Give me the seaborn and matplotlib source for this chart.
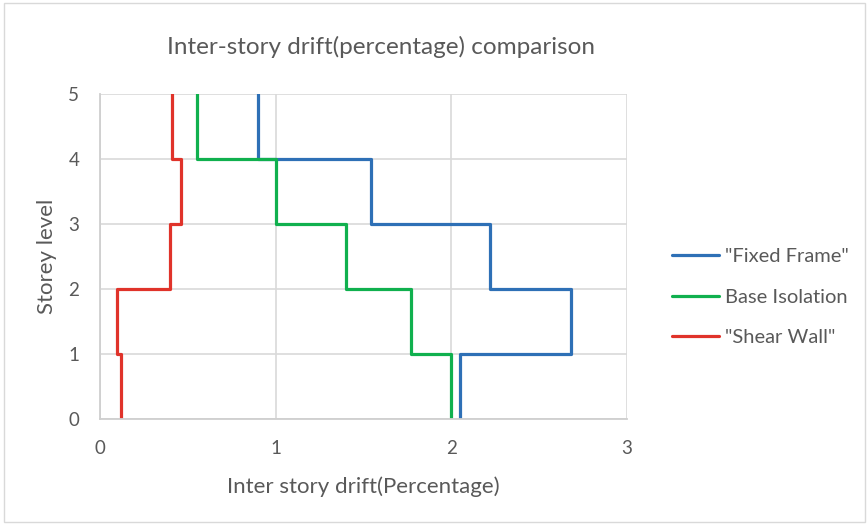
import numpy as np
import pandas as pd
import matplotlib
matplotlib.use("Agg")
import matplotlib.pyplot as plt
import seaborn as sns
from matplotlib.patches import Rectangle

# Data: drift (%) in each storey, storey i spans level i-1 .. i
storey_levels = [0, 1, 2, 3, 4, 5]
fixed_frame = [2.05, 2.68, 2.22, 1.54, 0.90]
base_isolation = [2.00, 1.77, 1.40, 1.00, 0.55]
shear_wall = [0.12, 0.095, 0.40, 0.46, 0.41]
series_names = ['"Fixed Frame"', 'Base Isolation', '"Shear Wall"']
series_values = [fixed_frame, base_isolation, shear_wall]
colors = ['#2e70b6', '#10b04e', '#e0332a']
x_ticks = [0, 1, 2, 3]
y_ticks = [0, 1, 2, 3, 4, 5]

rows = []
for name, vals in zip(series_names, series_values):
    order = 0
    for i, v in enumerate(vals):
        rows.append(dict(series=name, x=v, y=storey_levels[i], o=order)); order += 1
        rows.append(dict(series=name, x=v, y=storey_levels[i + 1], o=order)); order += 1
df = pd.DataFrame(rows)

sns.set_theme(style="white")
plt.rcParams['font.family'] = ['Lato', 'DejaVu Sans']
grey = '#595959'

fig = plt.figure(figsize=(8.68, 5.25), dpi=100)
ax = fig.add_axes([100 / 868, 1 - 419 / 525, 527 / 868, 325 / 525])

sns.lineplot(data=df, x='x', y='y', hue='series', hue_order=series_names,
             palette=colors, sort=False, estimator=None, units='series',
             linewidth=2.3, ax=ax, legend=True)

ax.set_xlim(0, 3)
ax.set_ylim(0, 5)
ax.set_xticks(x_ticks)
ax.set_yticks(y_ticks)
ax.grid(True, color='#d9d9d9', linewidth=1.2)
ax.set_axisbelow(True)
for s in ['top', 'right']:
    ax.spines[s].set_visible(False)
for s in ['left', 'bottom']:
    ax.spines[s].set_color('#cfcfcf')
    ax.spines[s].set_linewidth(1.3)
ax.tick_params(axis='both', length=0, labelsize=13.5, labelcolor=grey, pad=15)

ax.set_xlabel('Inter story drift(Percentage)', fontsize=16, color=grey, labelpad=14)
ax.set_ylabel('Storey level', fontsize=16, color=grey, labelpad=8)
fig.text(381 / 868, 1 - 47 / 525, 'Inter-story drift(percentage) comparison',
         ha='center', va='center', fontsize=17.5, color=grey)

h, l = ax.get_legend_handles_labels()
ax.legend(h, l, loc='center left', bbox_to_anchor=(1.051, 0.375), frameon=False,
          fontsize=14.5, labelcolor=grey, handlelength=2.35, handletextpad=0.3,
          labelspacing=1.15)

fig.add_artist(Rectangle((4 / 868, 3 / 525), 861 / 868, 519 / 525,
                         transform=fig.transFigure, fill=False,
                         edgecolor='#d9d9d9', linewidth=1))

fig.savefig('out.png', dpi=100)
